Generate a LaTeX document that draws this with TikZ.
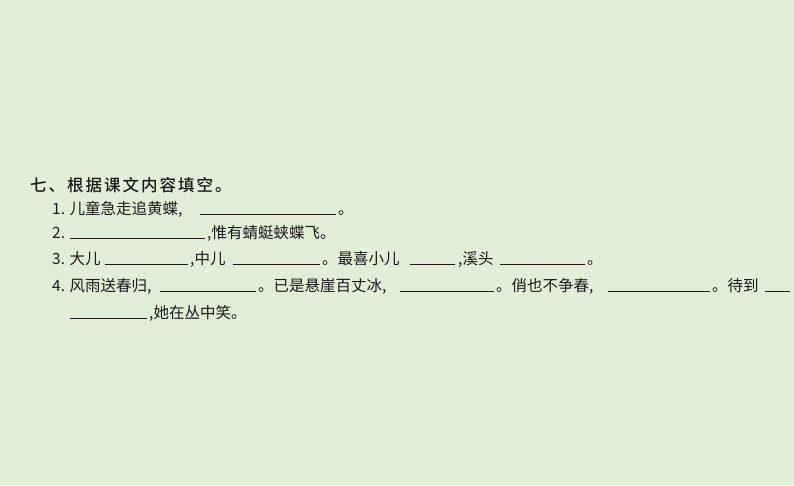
\documentclass[tikz,border=0pt]{standalone}
\usepackage{fontspec}
\newfontfamily\cjk{Noto Sans CJK SC}
\newfontfamily\cjkt[LetterSpace=12]{Noto Sans CJK SC Medium}
\definecolor{bg}{HTML}{E3EED9}
\definecolor{ink}{HTML}{1A1A1A}
\begin{document}
\begin{tikzpicture}[x=1pt,y=-1pt,
  t/.style={anchor=base west,inner sep=0pt,font=\cjk\fontsize{15.5}{15.5}\selectfont,text=ink},
  ul/.style={draw=ink,line width=0.7pt}]
\fill[bg] (0,0) rectangle (794,485);
\useasboundingbox (0,0) rectangle (794,485);
\node[t,font=\cjkt\fontsize{16.5}{16.5}\selectfont] (title) at (30,191) {七、根据课文内容填空。};
% line 1
\node[t] (a1) at (52,214) {1. 儿童急走追黄蝶,};
\draw[ul] (200,214) -- (336,214);
\node[t] (a2) at (338,214) {。};
% line 2
\node[t] (b1) at (52,238) {2.};
\draw[ul] (70,238) -- (205,238);
\node[t] (b2) at (207,238) {,惟有蜻蜓蛱蝶飞。};
% line 3
\node[t] (c1) at (52,264) {3. 大儿};
\draw[ul] (105,264) -- (188,264);
\node[t] (c2) at (190,264) {,中儿};
\draw[ul] (233,264) -- (320,264);
\node[t] (c3) at (322,264) {。最喜小儿};
\draw[ul] (410,264) -- (455,264);
\node[t] (c4) at (458,264) {,溪头};
\draw[ul] (500,264) -- (585,264);
\node[t] (c5) at (587,264) {。};
% line 4
\node[t] (d1) at (52,291) {4. 风雨送春归,};
\draw[ul] (160,291) -- (256,291);
\node[t] (d2) at (258,291) {。已是悬崖百丈冰,};
\draw[ul] (400,291) -- (494,291);
\node[t] (d3) at (496,291) {。俏也不争春,};
\draw[ul] (608,291) -- (710,291);
\node[t] (d4) at (712,291) {。待到};
\draw[ul] (765,291) -- (790,291);
% line 5
\draw[ul] (70,318) -- (147,318);
\node[t] (e1) at (149,318) {,她在丛中笑。};
\end{tikzpicture}
\end{document}
